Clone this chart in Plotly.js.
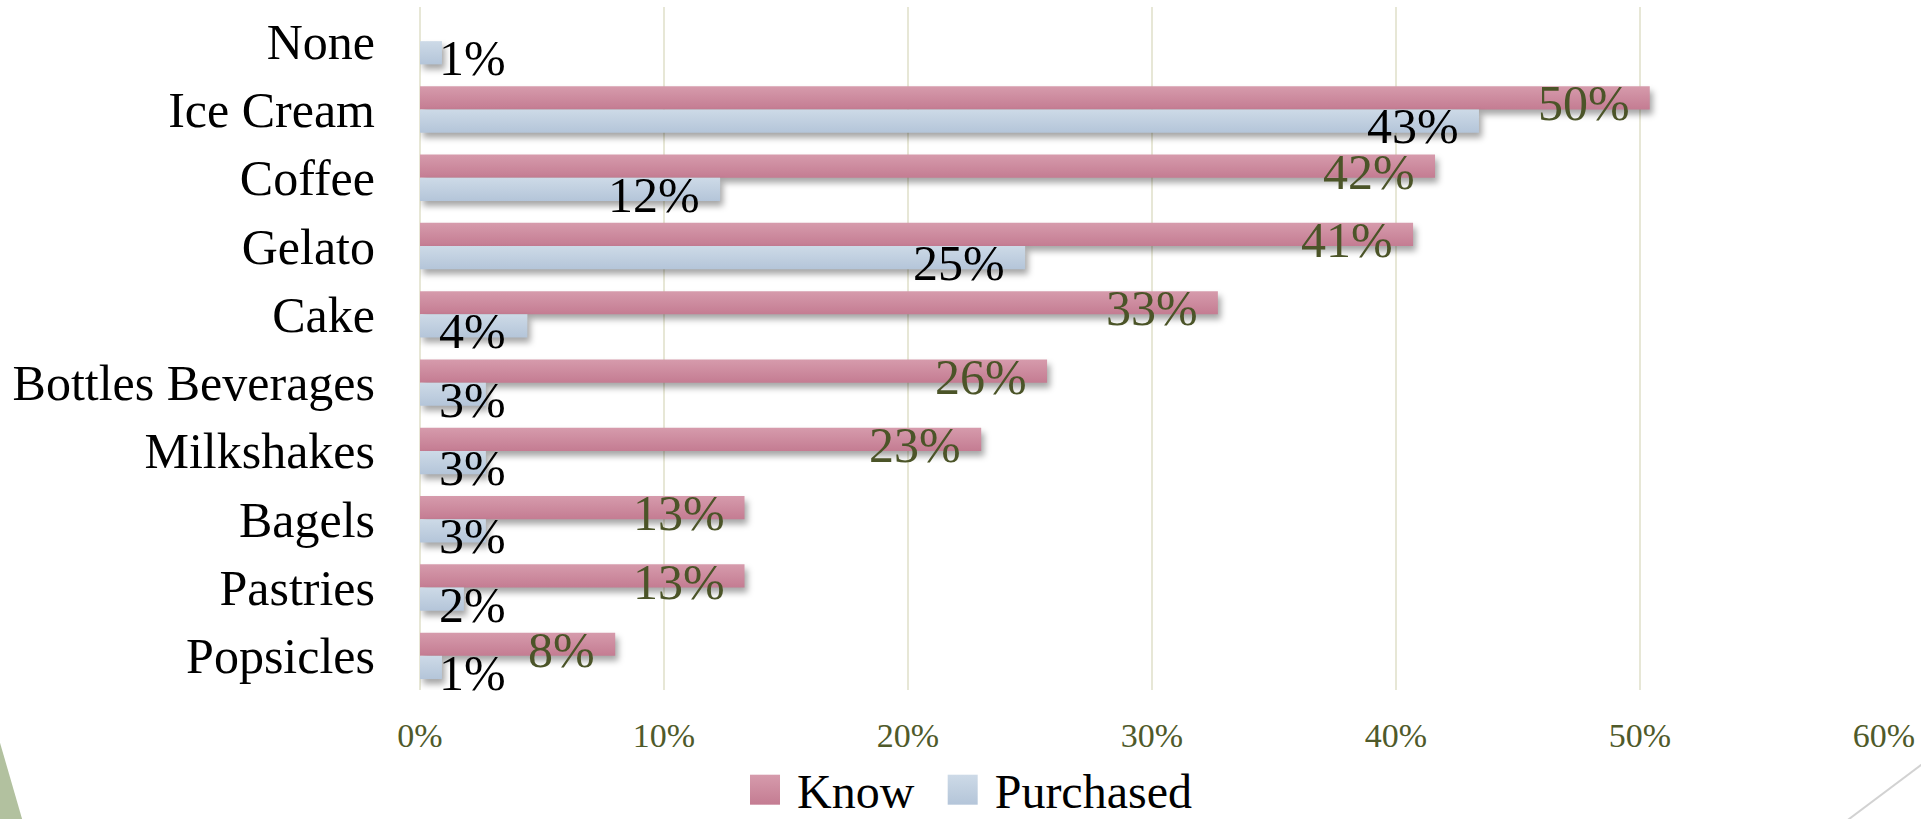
<!DOCTYPE html>
<html>
<head>
<meta charset="utf-8">
<script src="https://cdn.plot.ly/plotly-3.0.1.min.js"></script>
<style>
  html, body { margin: 0; padding: 0; background: #ffffff; }
  #chart { width: 1921px; height: 819px; }
  #gradients { position: absolute; width: 0; height: 0; overflow: hidden; }
  .trace.bars path { filter: drop-shadow(3px 5px 3px rgba(0,0,0,0.35)); }
  .barlayer .trace.bars:nth-child(1) .point path { fill: url(#gradKnow) !important; }
  .barlayer .trace.bars:nth-child(2) .point path { fill: url(#gradPurchased) !important; }
  .legend .legendpoints path { transform: translate(43px, 0px) scale(2.5); }
  .legend .traces:nth-child(1) .legendpoints path { fill: url(#gradKnow) !important; }
  .legend .traces:nth-child(2) .legendpoints path { fill: url(#gradPurchased) !important; }
</style>
</head>
<body>
<svg id="gradients" aria-hidden="true">
  <defs>
    <linearGradient id="gradKnow" x1="0" y1="0" x2="0" y2="1">
      <stop offset="0" stop-color="#d69bac"/>
      <stop offset="1" stop-color="#c47c92"/>
    </linearGradient>
    <linearGradient id="gradPurchased" x1="0" y1="0" x2="0" y2="1">
      <stop offset="0" stop-color="#cddae7"/>
      <stop offset="1" stop-color="#b4c5d9"/>
    </linearGradient>
  </defs>
</svg>
<div id="chart"></div>
<script>
// ---- data ----
const categories = ['None', 'Ice Cream', 'Coffee', 'Gelato', 'Cake', 'Bottles Beverages', 'Milkshakes', 'Bagels', 'Pastries', 'Popsicles'];
const knowValues = [null, 0.504, 0.416, 0.407, 0.327, 0.257, 0.230, 0.133, 0.133, 0.080];
const purchasedValues = [0.009, 0.434, 0.123, 0.248, 0.044, 0.027, 0.027, 0.027, 0.018, 0.009];
const seriesNames = ['Know', 'Purchased'];
const xTickValues = [0, 0.1, 0.2, 0.3, 0.4, 0.5, 0.6];
const xTickLabels = ['0%', '10%', '20%', '30%', '40%', '50%', '60%'];

// ---- styles ----
const FONT = 'Liberation Serif, Times New Roman, serif';
const colors = ['#cc8b9f', '#c1cfe0'];
const labelColors = ['#4b5428', '#000000'];
const gridColor = '#e7e7d6';

const traces = [knowValues, purchasedValues].map((vals, s) => ({
  type: 'bar',
  orientation: 'h',
  name: seriesNames[s],
  x: vals,
  y: categories,
  marker: { color: colors[s] },
  hoverinfo: 'x+y+name'
}));

const annotations = [];
[knowValues, purchasedValues].forEach((vals, s) => {
  vals.forEach((v, i) => {
    if (v === null) return;
    const big = v >= 0.05;
    annotations.push({
      x: big ? v : 0,
      y: categories[i],
      xref: 'x', yref: 'y',
      xanchor: big ? 'right' : 'left',
      yanchor: 'middle',
      xshift: big ? -18 : 17,
      yshift: s === 0 ? 6 : -17,
      text: Math.round(v * 100) + '%',
      showarrow: false,
      font: { family: FONT, size: 50, color: labelColors[s] }
    });
  });
});

const layout = {
  width: 1921,
  height: 819,
  paper_bgcolor: '#ffffff',
  plot_bgcolor: '#ffffff',
  margin: { l: 420, r: 37, t: 7, b: 129, pad: 0, autoexpand: false },
  barmode: 'group',
  bargap: 0.32,
  bargroupgap: 0,
  font: { family: FONT },
  xaxis: {
    range: [0, 0.6],
    tickvals: xTickValues,
    ticktext: xTickLabels,
    showgrid: true,
    gridcolor: gridColor,
    gridwidth: 2,
    zeroline: true,
    zerolinecolor: gridColor,
    zerolinewidth: 2,
    showline: false,
    ticks: '',
    ticklabelstandoff: 22,
    tickfont: { family: FONT, size: 34, color: '#4f5a2a' },
    automargin: false,
    fixedrange: true
  },
  yaxis: {
    type: 'category',
    categoryorder: 'array',
    categoryarray: categories,
    range: [categories.length - 0.5, -0.5],
    autorange: false,
    showgrid: false,
    zeroline: false,
    showline: false,
    ticks: '',
    ticklabelstandoff: 44,
    tickfont: { family: FONT, size: 50, color: '#000000' },
    automargin: false,
    fixedrange: true
  },
  showlegend: true,
  legend: {
    orientation: 'h',
    x: 0.2063,
    xanchor: 'left',
    y: -0.1464,
    yanchor: 'middle',
    itemwidth: 65,
    font: { family: FONT, size: 48, color: '#000000' },
    bgcolor: 'rgba(0,0,0,0)',
    traceorder: 'normal'
  },
  annotations: annotations,
  shapes: [
    {
      type: 'path', xref: 'paper', yref: 'paper',
      path: 'M -0.2883,-0.0666 L -0.2712,-0.1933 L -0.2883,-0.1933 Z',
      fillcolor: '#b2c19f', line: { width: 0 }, layer: 'above'
    },
    {
      type: 'line', xref: 'paper', yref: 'paper',
      x0: 0.9734, y0: -0.1933, x1: 1.0280, y1: -0.1054,
      line: { color: '#d2d2d2', width: 2 }, layer: 'above'
    }
  ]
};

Plotly.newPlot('chart', traces, layout, { displayModeBar: false, staticPlot: true });
</script>
</body>
</html>
